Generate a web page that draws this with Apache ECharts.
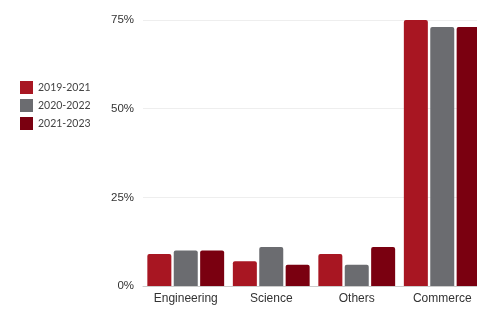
<!DOCTYPE html>
<html>
<head>
<meta charset="utf-8">
<script src="https://cdn.jsdelivr.net/npm/echarts@6/dist/echarts.min.js"></script>
<style>
  html, body { margin: 0; padding: 0; background: #fff; }
  #chart { width: 477px; height: 310px; }
</style>
</head>
<body>
<div id="chart"></div>
<script>
const categories = ['Engineering', 'Science', 'Others', 'Commerce'];
const seriesNames = ['2019-2021', '2020-2022', '2021-2023'];
const values2019 = [9, 7, 9, 75];
const values2020 = [10, 11, 6, 73];
const values2021 = [10, 6, 11, 73];
const colors = ['#a81622', '#6b6c70', '#7a0010'];

const myChart = echarts.init(document.getElementById('chart'));

const makeSeries = (name, data, color) => ({
  name,
  type: 'bar',
  data,
  barWidth: 24,
  barGap: '10%',
  itemStyle: { color, borderRadius: [2, 2, 0, 0] }
});

myChart.setOption({
  animation: false,
  textStyle: { fontFamily: 'Liberation Sans, Arial, sans-serif' },
  legend: {
    orient: 'vertical',
    left: 20,
    top: 81,
    padding: 0,
    itemWidth: 13,
    itemHeight: 13,
    itemGap: 5,
    icon: 'rect',
    textStyle: { color: '#444', fontSize: 10.5, fontFamily: 'Lato, sans-serif' },
    data: seriesNames
  },
  // plot runs past the right edge, as in the cropped original
  grid: {
    left: 143,
    width: 342,
    top: 20,
    bottom: 24,
    containLabel: false,
    outerBoundsMode: 'none'
  },
  xAxis: {
    type: 'category',
    data: categories,
    axisTick: { show: false },
    axisLine: { lineStyle: { color: '#ccc' } },
    axisLabel: { color: '#333', fontSize: 12, margin: 7 }
  },
  yAxis: {
    type: 'value',
    min: 0,
    max: 75,
    interval: 25,
    axisLine: { show: false },
    axisTick: { show: false },
    axisLabel: { color: '#333', fontSize: 11.5, margin: 9, formatter: '{value}%' },
    splitLine: { lineStyle: { color: '#eee' } }
  },
  series: [
    makeSeries(seriesNames[0], values2019, colors[0]),
    makeSeries(seriesNames[1], values2020, colors[1]),
    makeSeries(seriesNames[2], values2021, colors[2])
  ]
});
</script>
</body>
</html>
